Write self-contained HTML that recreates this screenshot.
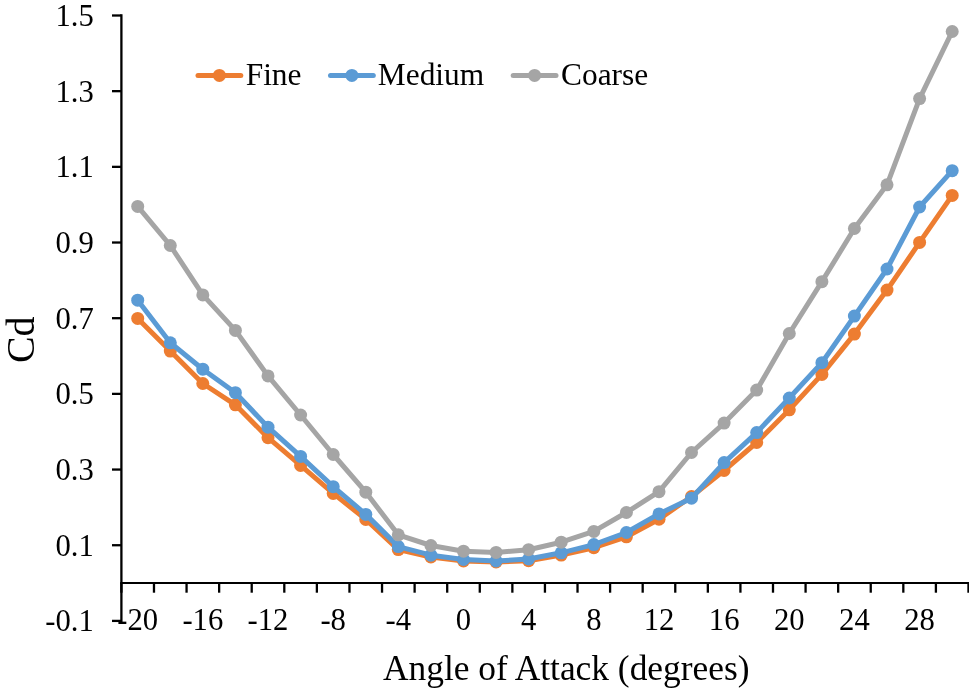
<!DOCTYPE html>
<html><head><meta charset="utf-8"><title>Cd vs Angle of Attack</title>
<style>
html,body{margin:0;padding:0;background:#fff;}
svg{display:block;}
text{font-family:"Liberation Serif","Times New Roman",serif;fill:#000;}
.t{font-size:30.67px;}
.ax{stroke:#000;stroke-width:2.3;fill:none;}
</style></head><body>
<svg width="969" height="691" viewBox="0 0 969 691">
<rect width="969" height="691" fill="#fff"/>
<polyline points="137.7,318.4 170.3,351.1 202.8,383.5 235.4,404.8 268.0,437.7 300.6,465.4 333.2,493.4 365.8,519.4 398.3,549.6 430.9,557.0 463.5,561.0 496.1,562.0 528.6,560.7 561.2,555.1 593.8,547.7 626.4,536.8 659.0,519.2 691.5,496.5 724.1,470.5 756.7,442.5 789.3,409.8 821.9,374.4 854.4,334.1 887.0,290.1 919.6,242.4 952.2,195.4" fill="none" stroke="#ED7D31" stroke-width="5.0" stroke-linejoin="round" stroke-linecap="round"/>
<g fill="#ED7D31"><circle cx="137.7" cy="318.4" r="6.5"/><circle cx="170.3" cy="351.1" r="6.5"/><circle cx="202.8" cy="383.5" r="6.5"/><circle cx="235.4" cy="404.8" r="6.5"/><circle cx="268.0" cy="437.7" r="6.5"/><circle cx="300.6" cy="465.4" r="6.5"/><circle cx="333.2" cy="493.4" r="6.5"/><circle cx="365.8" cy="519.4" r="6.5"/><circle cx="398.3" cy="549.6" r="6.5"/><circle cx="430.9" cy="557.0" r="6.5"/><circle cx="463.5" cy="561.0" r="6.5"/><circle cx="496.1" cy="562.0" r="6.5"/><circle cx="528.6" cy="560.7" r="6.5"/><circle cx="561.2" cy="555.1" r="6.5"/><circle cx="593.8" cy="547.7" r="6.5"/><circle cx="626.4" cy="536.8" r="6.5"/><circle cx="659.0" cy="519.2" r="6.5"/><circle cx="691.5" cy="496.5" r="6.5"/><circle cx="724.1" cy="470.5" r="6.5"/><circle cx="756.7" cy="442.5" r="6.5"/><circle cx="789.3" cy="409.8" r="6.5"/><circle cx="821.9" cy="374.4" r="6.5"/><circle cx="854.4" cy="334.1" r="6.5"/><circle cx="887.0" cy="290.1" r="6.5"/><circle cx="919.6" cy="242.4" r="6.5"/><circle cx="952.2" cy="195.4" r="6.5"/></g>
<polyline points="137.7,300.2 170.3,342.8 202.8,369.2 235.4,392.7 268.0,427.2 300.6,456.4 333.2,486.7 365.8,514.4 398.3,546.6 430.9,555.2 463.5,559.5 496.1,561.0 528.6,559.0 561.2,552.8 593.8,544.6 626.4,532.5 659.0,513.9 691.5,498.2 724.1,462.6 756.7,432.6 789.3,398.0 821.9,362.7 854.4,316.1 887.0,269.0 919.6,207.0 952.2,170.7" fill="none" stroke="#5B9BD5" stroke-width="5.0" stroke-linejoin="round" stroke-linecap="round"/>
<g fill="#5B9BD5"><circle cx="137.7" cy="300.2" r="6.5"/><circle cx="170.3" cy="342.8" r="6.5"/><circle cx="202.8" cy="369.2" r="6.5"/><circle cx="235.4" cy="392.7" r="6.5"/><circle cx="268.0" cy="427.2" r="6.5"/><circle cx="300.6" cy="456.4" r="6.5"/><circle cx="333.2" cy="486.7" r="6.5"/><circle cx="365.8" cy="514.4" r="6.5"/><circle cx="398.3" cy="546.6" r="6.5"/><circle cx="430.9" cy="555.2" r="6.5"/><circle cx="463.5" cy="559.5" r="6.5"/><circle cx="496.1" cy="561.0" r="6.5"/><circle cx="528.6" cy="559.0" r="6.5"/><circle cx="561.2" cy="552.8" r="6.5"/><circle cx="593.8" cy="544.6" r="6.5"/><circle cx="626.4" cy="532.5" r="6.5"/><circle cx="659.0" cy="513.9" r="6.5"/><circle cx="691.5" cy="498.2" r="6.5"/><circle cx="724.1" cy="462.6" r="6.5"/><circle cx="756.7" cy="432.6" r="6.5"/><circle cx="789.3" cy="398.0" r="6.5"/><circle cx="821.9" cy="362.7" r="6.5"/><circle cx="854.4" cy="316.1" r="6.5"/><circle cx="887.0" cy="269.0" r="6.5"/><circle cx="919.6" cy="207.0" r="6.5"/><circle cx="952.2" cy="170.7" r="6.5"/></g>
<polyline points="137.7,206.4 170.3,245.5 202.8,294.9 235.4,330.4 268.0,375.9 300.6,415.0 333.2,454.5 365.8,492.2 398.3,534.8 430.9,545.5 463.5,551.2 496.1,552.4 528.6,549.7 561.2,542.2 593.8,531.4 626.4,512.5 659.0,491.7 691.5,452.5 724.1,423.1 756.7,390.1 789.3,333.5 821.9,281.7 854.4,228.5 887.0,184.8 919.6,98.6 952.2,31.5" fill="none" stroke="#A5A5A5" stroke-width="5.0" stroke-linejoin="round" stroke-linecap="round"/>
<g fill="#A5A5A5"><circle cx="137.7" cy="206.4" r="6.5"/><circle cx="170.3" cy="245.5" r="6.5"/><circle cx="202.8" cy="294.9" r="6.5"/><circle cx="235.4" cy="330.4" r="6.5"/><circle cx="268.0" cy="375.9" r="6.5"/><circle cx="300.6" cy="415.0" r="6.5"/><circle cx="333.2" cy="454.5" r="6.5"/><circle cx="365.8" cy="492.2" r="6.5"/><circle cx="398.3" cy="534.8" r="6.5"/><circle cx="430.9" cy="545.5" r="6.5"/><circle cx="463.5" cy="551.2" r="6.5"/><circle cx="496.1" cy="552.4" r="6.5"/><circle cx="528.6" cy="549.7" r="6.5"/><circle cx="561.2" cy="542.2" r="6.5"/><circle cx="593.8" cy="531.4" r="6.5"/><circle cx="626.4" cy="512.5" r="6.5"/><circle cx="659.0" cy="491.7" r="6.5"/><circle cx="691.5" cy="452.5" r="6.5"/><circle cx="724.1" cy="423.1" r="6.5"/><circle cx="756.7" cy="390.1" r="6.5"/><circle cx="789.3" cy="333.5" r="6.5"/><circle cx="821.9" cy="281.7" r="6.5"/><circle cx="854.4" cy="228.5" r="6.5"/><circle cx="887.0" cy="184.8" r="6.5"/><circle cx="919.6" cy="98.6" r="6.5"/><circle cx="952.2" cy="31.5" r="6.5"/></g>
<line class="ax" x1="121.40" y1="14.35" x2="121.40" y2="622.05"/>
<line class="ax" x1="120.25" y1="583" x2="969.5" y2="583" style="stroke-width:2.2"/>
<line class="ax" x1="112" y1="15.50" x2="121.40" y2="15.50"/><text class="t" x="93.8" y="25.90" text-anchor="end">1.5</text>
<line class="ax" x1="112" y1="91.17" x2="121.40" y2="91.17"/><text class="t" x="93.8" y="101.58" text-anchor="end">1.3</text>
<line class="ax" x1="112" y1="166.85" x2="121.40" y2="166.85"/><text class="t" x="93.8" y="177.25" text-anchor="end">1.1</text>
<line class="ax" x1="112" y1="242.52" x2="121.40" y2="242.52"/><text class="t" x="93.8" y="252.92" text-anchor="end">0.9</text>
<line class="ax" x1="112" y1="318.20" x2="121.40" y2="318.20"/><text class="t" x="93.8" y="328.60" text-anchor="end">0.7</text>
<line class="ax" x1="112" y1="393.88" x2="121.40" y2="393.88"/><text class="t" x="93.8" y="404.27" text-anchor="end">0.5</text>
<line class="ax" x1="112" y1="469.55" x2="121.40" y2="469.55"/><text class="t" x="93.8" y="479.95" text-anchor="end">0.3</text>
<line class="ax" x1="112" y1="545.23" x2="121.40" y2="545.23"/><text class="t" x="93.8" y="555.62" text-anchor="end">0.1</text>
<line class="ax" x1="112" y1="620.90" x2="121.40" y2="620.90"/><text class="t" x="93.8" y="631.30" text-anchor="end">-0.1</text>
<line class="ax" x1="121.40" y1="582.9" x2="121.40" y2="592.7"/><line class="ax" x1="153.98" y1="582.9" x2="153.98" y2="592.7"/><line class="ax" x1="186.56" y1="582.9" x2="186.56" y2="592.7"/><line class="ax" x1="219.14" y1="582.9" x2="219.14" y2="592.7"/><line class="ax" x1="251.72" y1="582.9" x2="251.72" y2="592.7"/><line class="ax" x1="284.30" y1="582.9" x2="284.30" y2="592.7"/><line class="ax" x1="316.88" y1="582.9" x2="316.88" y2="592.7"/><line class="ax" x1="349.46" y1="582.9" x2="349.46" y2="592.7"/><line class="ax" x1="382.04" y1="582.9" x2="382.04" y2="592.7"/><line class="ax" x1="414.62" y1="582.9" x2="414.62" y2="592.7"/><line class="ax" x1="447.20" y1="582.9" x2="447.20" y2="592.7"/><line class="ax" x1="479.78" y1="582.9" x2="479.78" y2="592.7"/><line class="ax" x1="512.36" y1="582.9" x2="512.36" y2="592.7"/><line class="ax" x1="544.94" y1="582.9" x2="544.94" y2="592.7"/><line class="ax" x1="577.52" y1="582.9" x2="577.52" y2="592.7"/><line class="ax" x1="610.10" y1="582.9" x2="610.10" y2="592.7"/><line class="ax" x1="642.68" y1="582.9" x2="642.68" y2="592.7"/><line class="ax" x1="675.26" y1="582.9" x2="675.26" y2="592.7"/><line class="ax" x1="707.84" y1="582.9" x2="707.84" y2="592.7"/><line class="ax" x1="740.42" y1="582.9" x2="740.42" y2="592.7"/><line class="ax" x1="773.00" y1="582.9" x2="773.00" y2="592.7"/><line class="ax" x1="805.58" y1="582.9" x2="805.58" y2="592.7"/><line class="ax" x1="838.16" y1="582.9" x2="838.16" y2="592.7"/><line class="ax" x1="870.74" y1="582.9" x2="870.74" y2="592.7"/><line class="ax" x1="903.32" y1="582.9" x2="903.32" y2="592.7"/><line class="ax" x1="935.90" y1="582.9" x2="935.90" y2="592.7"/><line class="ax" x1="968.48" y1="582.9" x2="968.48" y2="592.7"/>
<text class="t" x="137.69" y="630.0" text-anchor="middle">-20</text><text class="t" x="202.85" y="630.0" text-anchor="middle">-16</text><text class="t" x="268.01" y="630.0" text-anchor="middle">-12</text><text class="t" x="333.17" y="630.0" text-anchor="middle">-8</text><text class="t" x="398.33" y="630.0" text-anchor="middle">-4</text><text class="t" x="463.49" y="630.0" text-anchor="middle">0</text><text class="t" x="528.65" y="630.0" text-anchor="middle">4</text><text class="t" x="593.81" y="630.0" text-anchor="middle">8</text><text class="t" x="658.97" y="630.0" text-anchor="middle">12</text><text class="t" x="724.13" y="630.0" text-anchor="middle">16</text><text class="t" x="789.29" y="630.0" text-anchor="middle">20</text><text class="t" x="854.45" y="630.0" text-anchor="middle">24</text><text class="t" x="919.61" y="630.0" text-anchor="middle">28</text>
<text x="566.25" y="679.5" text-anchor="middle" style="font-size:35.4px">Angle of Attack (degrees)</text>
<text transform="translate(34.2,339.75) rotate(-90)" text-anchor="middle" style="font-size:40px">Cd</text>
<line x1="198.0" y1="75.4" x2="240.8" y2="75.4" stroke="#ED7D31" stroke-width="5.0" stroke-linecap="round"/><circle cx="219.4" cy="75.4" r="6.5" fill="#ED7D31"/><text x="245.7" y="84.9" style="font-size:31.4px">Fine</text>
<line x1="330.5" y1="75.4" x2="373.3" y2="75.4" stroke="#5B9BD5" stroke-width="5.0" stroke-linecap="round"/><circle cx="351.9" cy="75.4" r="6.5" fill="#5B9BD5"/><text x="377.8" y="84.9" style="font-size:31.4px">Medium</text>
<line x1="513.2" y1="75.4" x2="556.0" y2="75.4" stroke="#A5A5A5" stroke-width="5.0" stroke-linecap="round"/><circle cx="534.6" cy="75.4" r="6.5" fill="#A5A5A5"/><text x="561.0" y="84.9" style="font-size:31.4px">Coarse</text>
</svg>
</body></html>
